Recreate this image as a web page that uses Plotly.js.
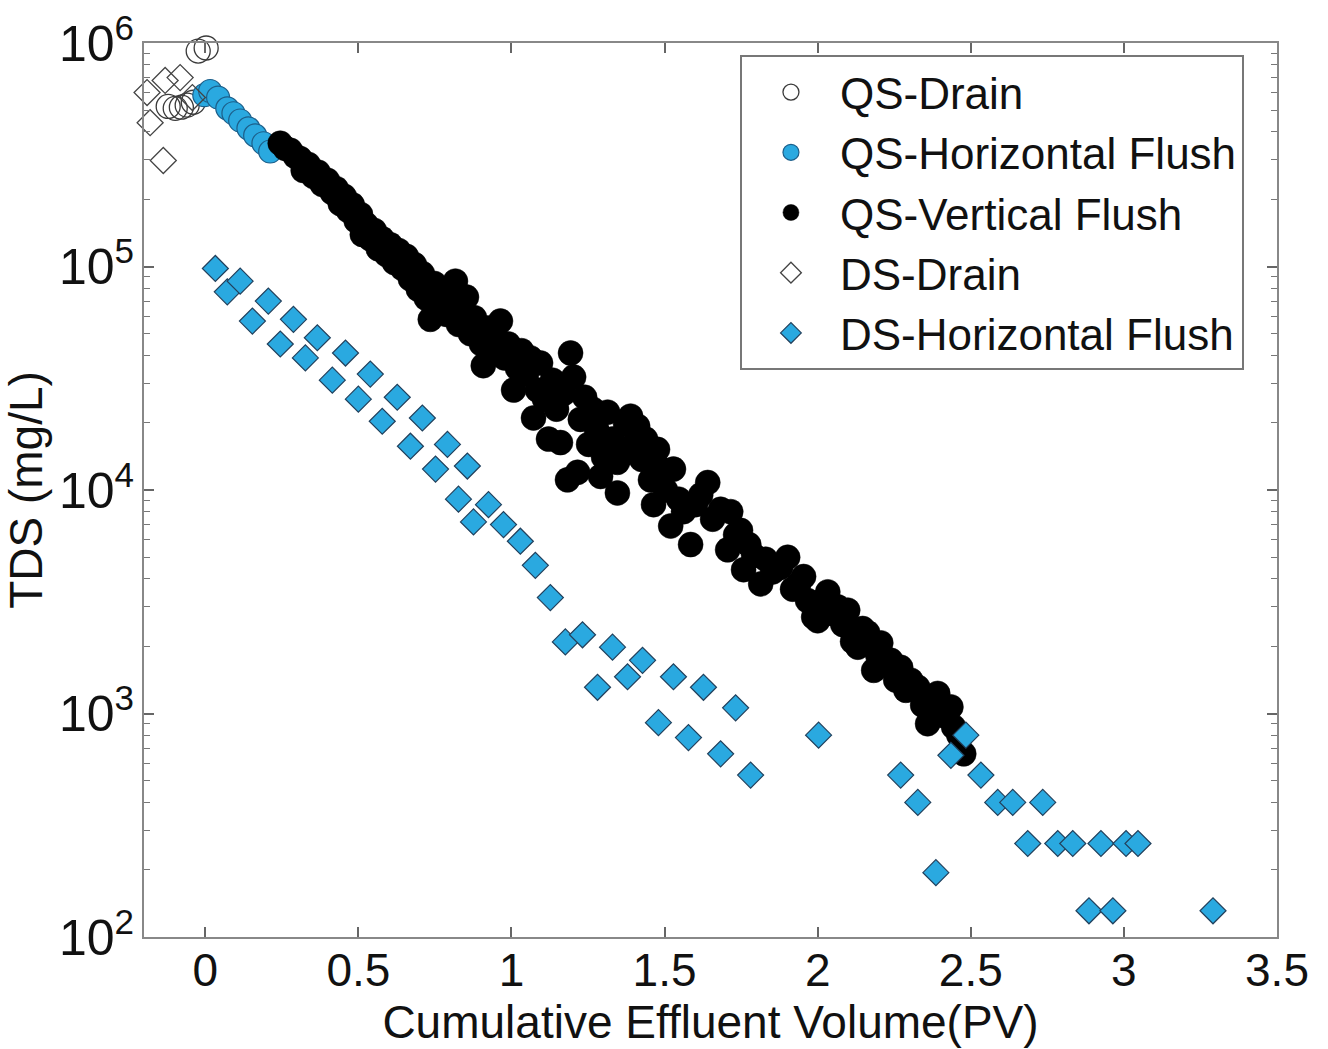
<!DOCTYPE html>
<html>
<head>
<meta charset="utf-8">
<script src="https://cdn.plot.ly/plotly-3.0.1.min.js"></script>
<style>html,body{margin:0;padding:0;background:#fff;}#chart{width:1328px;height:1049px;}</style>
</head>
<body>
<div id="chart"></div>
<script>
// ---- Data (Cumulative effluent volume in PV, TDS in mg/L) ----
var qsDrainX = [-0.121, -0.098, -0.078, -0.059, -0.039, -0.023, 0.003];
var qsDrainY = [5.2e5, 5.1e5, 5.16e5, 5.27e5, 5.43e5, 9.2e5, 9.5e5];

var qsHorX = [-0.003, 0.016, 0.042, 0.072, 0.092, 0.114, 0.141, 0.163, 0.190, 0.212];
var qsHorY = [5.84e5, 6.1e5, 5.7e5, 5.1e5, 4.85e5, 4.5e5, 4.15e5, 3.86e5, 3.56e5, 3.27e5];

var qsVerX = [
  0.245, 0.261, 0.278, 0.294, 0.310, 0.320, 0.337, 0.353, 0.369, 0.382,
  0.399, 0.415, 0.428, 0.441, 0.454, 0.467, 0.480, 0.493, 0.507, 0.513,
  0.526, 0.539, 0.552, 0.565, 0.578, 0.592, 0.605, 0.618, 0.631, 0.644,
  0.657, 0.670, 0.683, 0.696, 0.709, 0.722, 0.735, 0.748, 0.761, 0.775,
  0.788, 0.801, 0.817, 0.827, 0.840, 0.853, 0.866, 0.879, 0.889, 0.902,
  0.908, 0.922, 0.938, 0.951, 0.964, 0.977, 0.990, 1.007, 1.020, 1.033,
  1.049, 1.062, 1.072, 1.085, 1.095, 1.108, 1.121, 1.134, 1.147, 1.160,
  1.170, 1.183, 1.193, 1.203, 1.216, 1.225, 1.239, 1.252, 1.265, 1.278,
  1.291, 1.291, 1.301, 1.314, 1.330, 1.346, 1.346, 1.363, 1.373, 1.389,
  1.402, 1.412, 1.425, 1.438, 1.454, 1.464, 1.477, 1.490,
  1.503, 1.520, 1.529, 1.546, 1.562, 1.585, 1.601, 1.618, 1.641, 1.657,
  1.683, 1.706, 1.716, 1.732, 1.748, 1.758, 1.775, 1.791, 1.814, 1.830,
  1.853, 1.879, 1.902, 1.918, 1.938, 1.954, 1.967, 1.987, 2.000, 2.016,
  2.033, 2.049, 2.065, 2.082, 2.098, 2.114, 2.131, 2.147, 2.163, 2.183,
  2.196, 2.206, 2.222, 2.239, 2.255, 2.271, 2.288, 2.304, 2.327, 2.343,
  2.359, 2.376, 2.392, 2.408, 2.425, 2.435, 2.444, 2.461, 2.477
];
var qsVerY = [
  3.56e5, 3.38e5, 3.31e5, 3.11e5, 3.04e5, 2.69e5, 2.86e5, 2.53e5, 2.64e5, 2.33e5,
  2.43e5, 2.14e5, 2.23e5, 1.91e5, 2.06e5, 1.78e5, 1.89e5, 1.60e5, 1.71e5, 1.39e5,
  1.54e5, 1.33e5, 1.45e5, 1.20e5, 1.33e5, 1.13e5, 1.25e5, 1.04e5, 1.18e5, 9.8e4,
  1.11e5, 8.8e4, 1.02e5, 7.9e4, 9.3e4, 7.2e4, 5.8e4, 8.4e4, 6.8e4, 7.8e4,
  6.1e4, 7.2e4, 8.6e4, 5.5e4, 6.5e4, 7.3e4, 5.0e4, 5.9e4, 5.3e4, 4.5e4,
  3.6e4, 5.3e4, 4.3e4, 4.8e4, 5.7e4, 3.9e4, 4.5e4, 2.8e4, 3.5e4, 4.2e4,
  3.3e4, 3.9e4, 2.1e4, 2.8e4, 3.7e4, 2.55e4, 1.69e4, 3.1e4, 2.3e4, 1.63e4,
  2.7e4, 1.11e4, 4.1e4, 3.2e4, 1.2e4, 2.07e4, 2.6e4, 1.6e4, 2.3e4, 1.87e4,
  1.74e4, 1.15e4, 1.4e4, 2.23e4, 1.69e4, 1.33e4, 9.7e3, 1.44e4, 1.97e4, 2.14e4,
  1.6e4, 1.93e4, 1.37e4, 1.69e4, 1.11e4, 8.6e3, 1.52e4, 1.24e4,
  1.0e4, 6.9e3, 1.24e4, 9.1e3, 8.0e3, 5.7e3, 8.6e3, 9.5e3, 1.08e4, 7.4e3,
  8.2e3, 5.4e3, 8.0e3, 6.3e3, 6.6e3, 4.4e3, 5.7e3, 5.1e3, 3.8e3, 4.9e3,
  4.3e3, 4.5e3, 5.0e3, 3.6e3, 3.8e3, 4.1e3, 3.2e3, 2.7e3, 2.6e3, 3.2e3,
  3.5e3, 2.8e3, 3.0e3, 2.5e3, 2.9e3, 2.1e3, 1.98e3, 2.4e3, 2.3e3, 1.56e3,
  1.83e3, 2.07e3, 1.65e3, 1.73e3, 1.41e3, 1.61e3, 1.27e3, 1.41e3, 1.31e3, 1.09e3,
  900, 1.15e3, 1.23e3, 980, 1.03e3, 1.07e3, 870, 800, 660
];

var dsDrainX = [-0.190, -0.180, -0.137, -0.131, -0.082, -0.042];
var dsDrainY = [6.0e5, 4.4e5, 2.98e5, 6.8e5, 7.0e5, 5.7e5];

var dsHorX = [
  0.033, 0.072, 0.114, 0.154, 0.206, 0.245, 0.288, 0.327, 0.366, 0.415,
  0.458, 0.500, 0.539, 0.578, 0.627, 0.670, 0.709, 0.752, 0.791, 0.827,
  0.856, 0.876, 0.925, 0.974, 1.029, 1.078, 1.127, 1.176, 1.232, 1.281,
  1.330, 1.379, 1.428, 1.480, 1.529, 1.578, 1.627, 1.683, 1.732, 1.781,
  2.003, 2.271, 2.327, 2.386, 2.435, 2.484, 2.533, 2.588, 2.637, 2.686,
  2.735, 2.784, 2.833, 2.886, 2.925, 2.964, 3.007, 3.046, 3.291
];
var dsHorY = [
  9.8e4, 7.7e4, 8.6e4, 5.7e4, 7.0e4, 4.5e4, 5.8e4, 3.9e4, 4.8e4, 3.1e4,
  4.1e4, 2.55e4, 3.3e4, 2.03e4, 2.6e4, 1.57e4, 2.1e4, 1.24e4, 1.6e4, 9.1e3,
  1.28e4, 7.2e3, 8.6e3, 7.0e3, 5.9e3, 4.6e3, 3.3e3, 2.09e3, 2.25e3, 1.31e3,
  1.98e3, 1.46e3, 1.73e3, 910, 1.46e3, 780, 1.31e3, 660, 1.06e3, 530,
  800, 530, 400, 194, 650, 800, 530, 400, 400, 262,
  400, 262, 262, 131, 262, 131, 262, 262, 131
];

var seriesNames = ['QS-Drain', 'QS-Horizontal Flush', 'QS-Vertical Flush', 'DS-Drain', 'DS-Horizontal Flush'];
var xTickVals = [0, 0.5, 1, 1.5, 2, 2.5, 3, 3.5];
var xTickText = ['0', '0.5', '1', '1.5', '2', '2.5', '3', '3.5'];

var BLUE = '#2aa9e0';
var FONT = 'Arial, "Liberation Sans", Helvetica, sans-serif';

var traces = [
  {x: qsDrainX, y: qsDrainY, name: seriesNames[0], type: 'scatter', mode: 'markers', cliponaxis: false,
   marker: {symbol: 'circle-open', size: 24, color: '#3a3a3a', line: {width: 1.3}}},
  {x: qsHorX, y: qsHorY, name: seriesNames[1], type: 'scatter', mode: 'markers',
   marker: {symbol: 'circle', size: 23, color: BLUE, line: {color: '#1d5f8a', width: 1.2}}},
  {x: qsVerX, y: qsVerY, name: seriesNames[2], type: 'scatter', mode: 'markers',
   marker: {symbol: 'circle', size: 25, color: '#000000', line: {color: '#000000', width: 0.5}}},
  {x: dsDrainX, y: dsDrainY, name: seriesNames[3], type: 'scatter', mode: 'markers', cliponaxis: false,
   marker: {symbol: 'diamond-open', size: 20, color: '#444444', line: {width: 1.3}}},
  {x: dsHorX, y: dsHorY, name: seriesNames[4], type: 'scatter', mode: 'markers',
   marker: {symbol: 'diamond', size: 20, color: BLUE, line: {color: '#22405c', width: 1.2}}}
];

var layout = {
  width: 1328, height: 1049,
  margin: {l: 144, r: 51, t: 43, b: 112, pad: 0},
  paper_bgcolor: '#ffffff', plot_bgcolor: '#ffffff',
  font: {family: FONT, size: 46, color: '#111111'},
  showlegend: true,
  legend: {
    x: 0.526, y: 0.9866, xanchor: 'left', yanchor: 'top',
    bgcolor: '#ffffff', bordercolor: '#777777', borderwidth: 2,
    font: {family: FONT, size: 44, color: '#111111'},
    itemwidth: 88, tracegroupgap: 0
  },
  xaxis: {
    range: [-0.2, 3.5], tickmode: 'array', tickvals: xTickVals, ticktext: xTickText,
    ticks: 'inside', ticklen: 10, tickwidth: 1.5, tickcolor: '#666666',
    showline: true, linecolor: '#888888', linewidth: 2, mirror: 'allticks',
    showgrid: false, zeroline: false, ticklabelstandoff: -8,
    tickfont: {family: FONT, size: 46, color: '#111111'},
    title: {text: 'Cumulative Effluent Volume(PV)', font: {family: FONT, size: 46, color: '#111111'}, standoff: 0}
  },
  yaxis: {
    type: 'log', range: [2, 6], dtick: 1, exponentformat: 'power',
    ticks: 'inside', ticklen: 10, tickwidth: 1.5, tickcolor: '#666666',
    minor: {ticks: 'inside', ticklen: 6, tickwidth: 1.2, tickcolor: '#777777', dtick: 'D1', showgrid: false},
    showline: true, linecolor: '#888888', linewidth: 2, mirror: 'allticks',
    showgrid: false, zeroline: false, ticklabelstandoff: 0,
    tickfont: {family: FONT, size: 40, color: '#111111'},
    title: {text: 'TDS (mg/L)', font: {family: FONT, size: 46, color: '#111111'}, standoff: 8}
  }
};

Plotly.newPlot('chart', traces, layout, {displayModeBar: false, responsive: false});
</script>
</body>
</html>
